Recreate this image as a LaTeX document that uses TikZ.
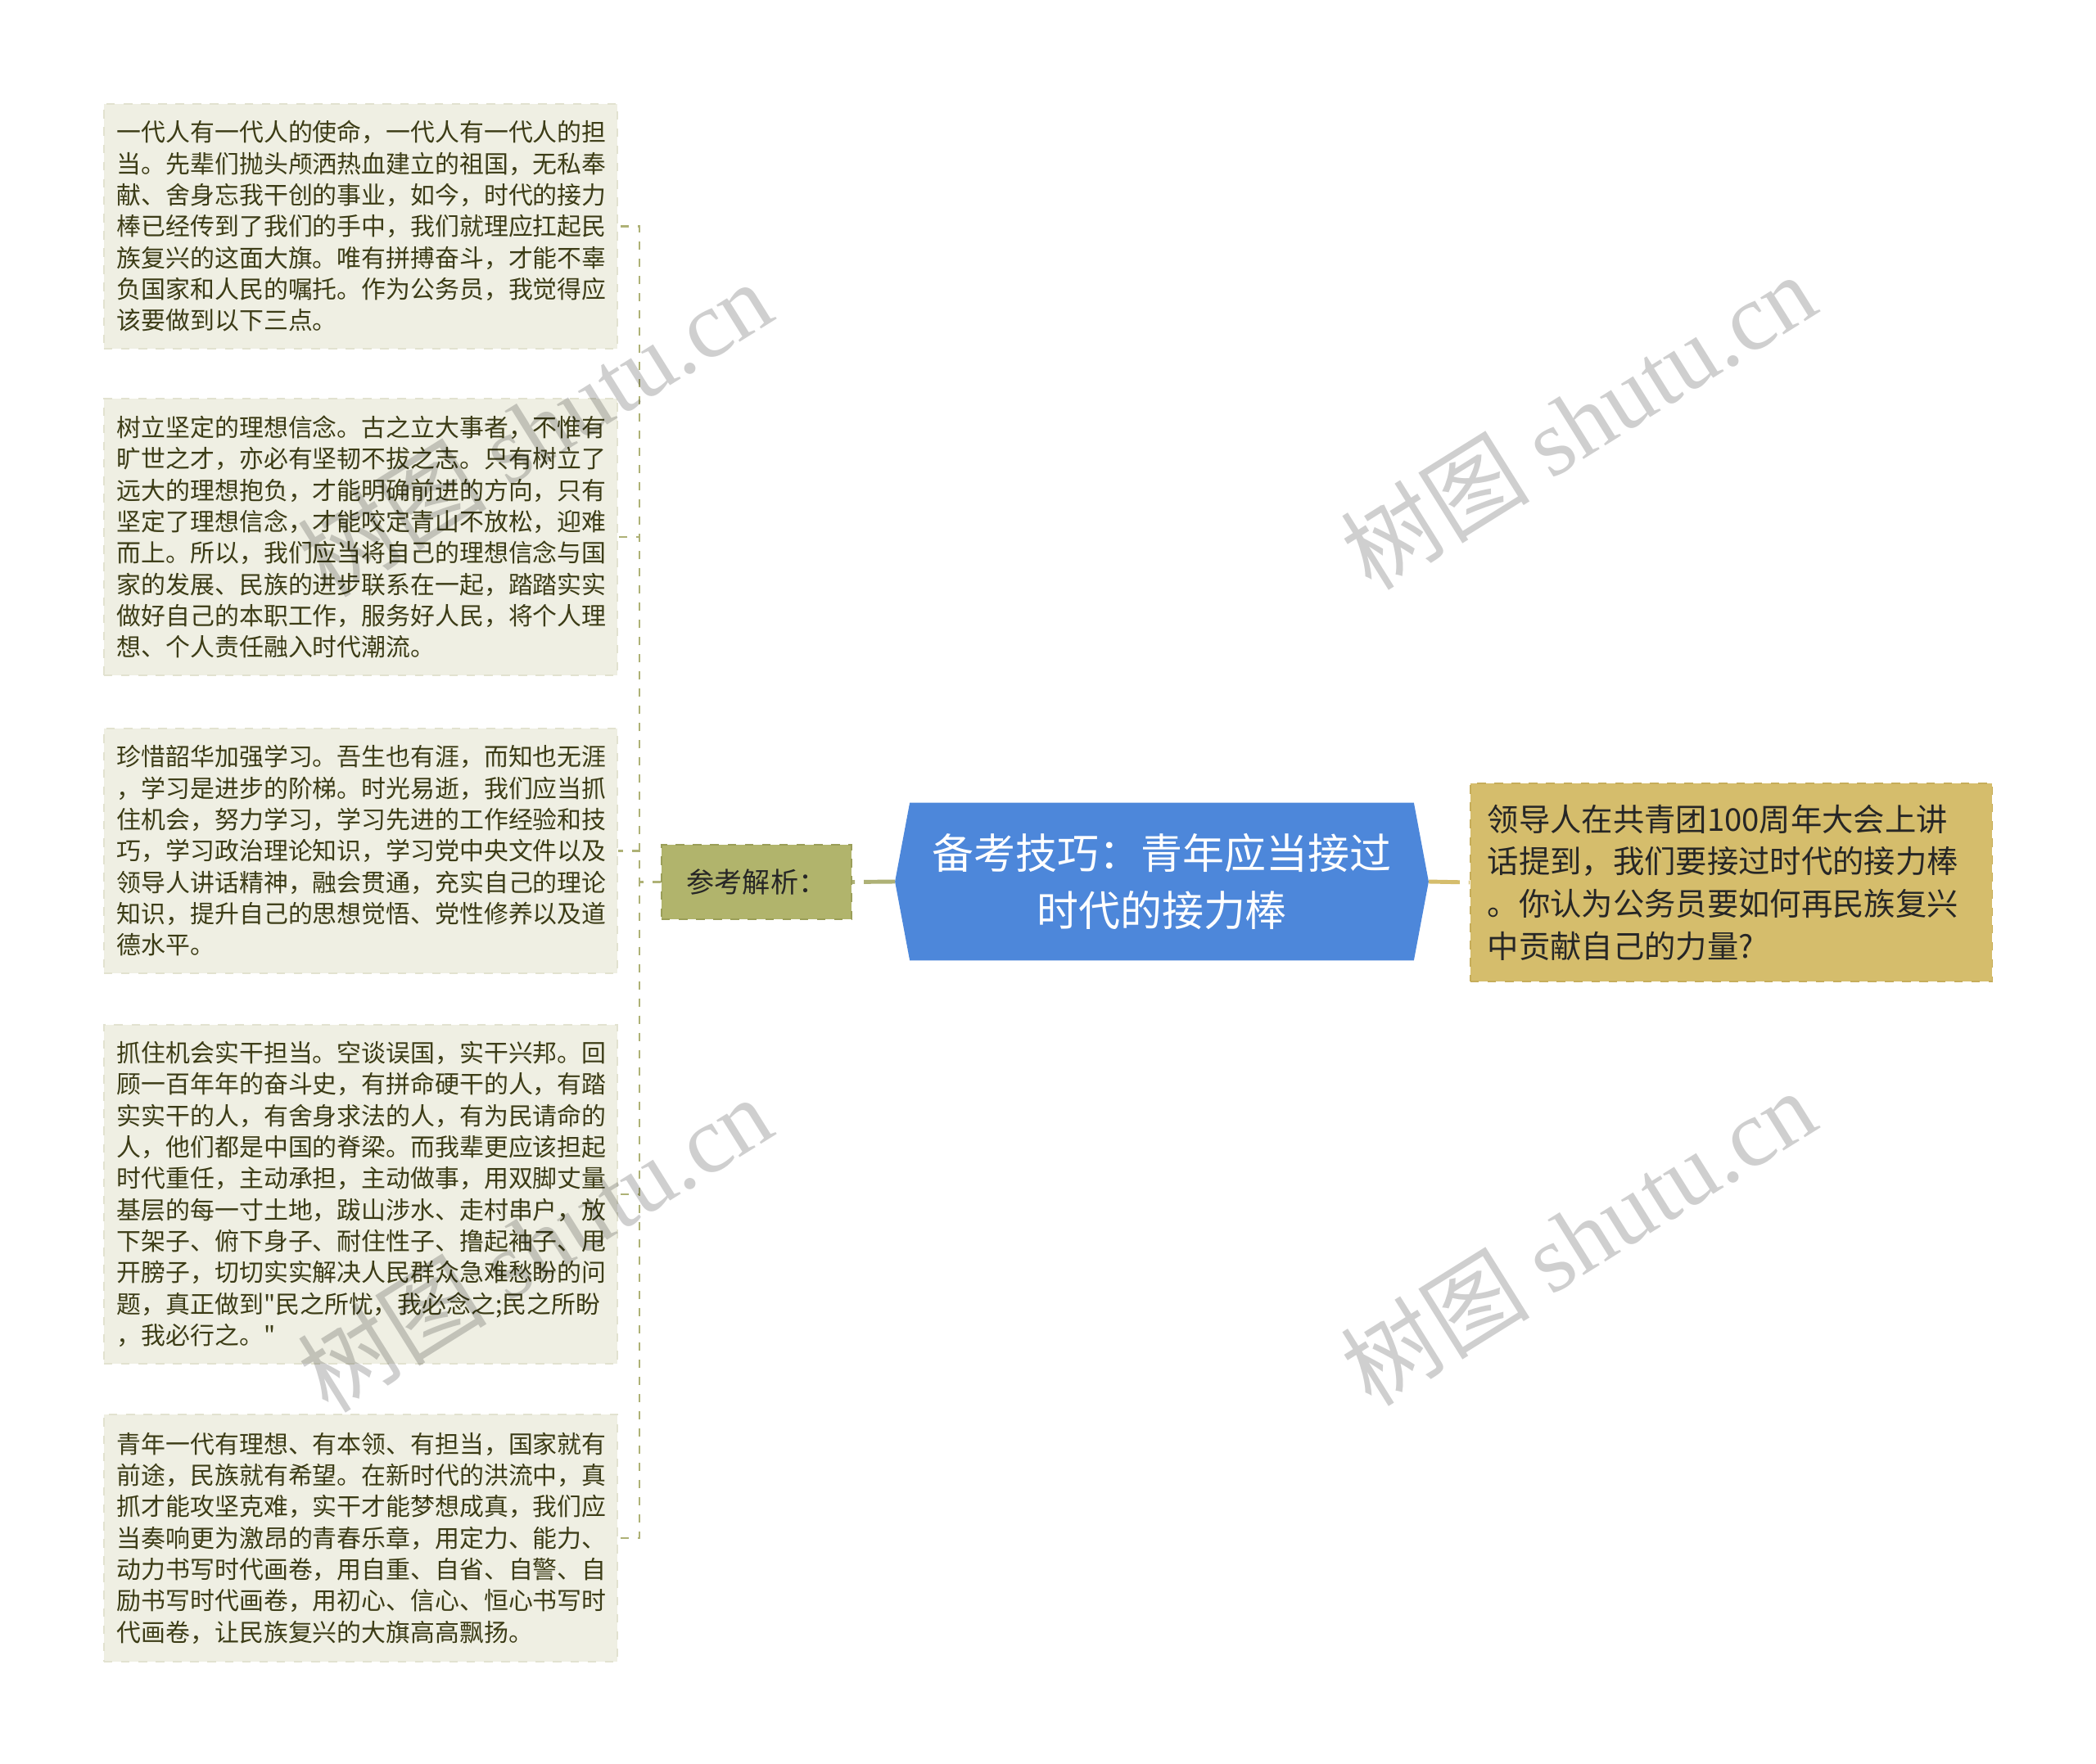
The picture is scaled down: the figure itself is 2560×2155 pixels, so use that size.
\documentclass[tikz,border=0pt]{standalone}
\usepackage{fontspec}
\setmainfont{Noto Sans CJK SC}
\setmonofont{Noto Sans CJK SC}
\newfontfamily\markfont{Liberation Serif}
\usepackage{tikz}
\usetikzlibrary{backgrounds}
\definecolor{leaffill}{HTML}{EFEFE3}
\definecolor{leafline}{HTML}{E2E2D0}
\definecolor{leaftext}{HTML}{3C3C16}
\definecolor{anafill}{HTML}{B1B46C}
\definecolor{analine}{HTML}{9A9E58}
\definecolor{titlefill}{HTML}{4D87DA}
\definecolor{qfill}{HTML}{D5BD6C}
\definecolor{qline}{HTML}{C6AD5A}
\definecolor{branchcol}{HTML}{AEB176}
\def\shutumark(#1)(#2){\node[watermark] (#2) at (#1) {树图 {\markfont shutu.cn}};}
\def\dq{{\ttfamily"}}

\begin{document}
\begin{tikzpicture}[x=0.01cm,y=-0.01cm,
		leaf/.style={draw=leafline, dashed, fill=leaffill, text=leaftext, text width=5.95cm, align=left,
			inner xsep=0.16cm, inner ysep=0cm, font=\fontsize{8.5pt}{10.9pt}\selectfont},
		branch/.style={draw=branchcol, line width=0.6pt, dash pattern=on 0.1cm off 0.11cm},
		trunk/.style={line width=1.4pt, dash pattern=on 0.38cm off 0.11cm},
		watermark/.style={rotate=32, text=black, text opacity=0.19, font=\fontsize{33pt}{33pt}\selectfont}]
			%%%%% START %%%%%
			
			\useasboundingbox (0,0) rectangle (2560,2155);
			\begin{scope}[on background layer]
				\fill[white] (0,0) rectangle (2560,2155);
			\end{scope}
			
			\node[leaf, minimum height=2.99cm] (leafA) at (440.5,276.5) {一代人有一代人的使命，一代人有一代人的担\\
				当。先辈们抛头颅洒热血建立的祖国，无私奉\\
				献、舍身忘我干创的事业，如今，时代的接力\\
				棒已经传到了我们的手中，我们就理应扛起民\\
				族复兴的这面大旗。唯有拼搏奋斗，才能不辜\\
				负国家和人民的嘱托。作为公务员，我觉得应\\
				该要做到以下三点。};
			\node[leaf, minimum height=3.38cm] (leafB) at (440.5,656) {树立坚定的理想信念。古之立大事者，不惟有\\
				旷世之才，亦必有坚韧不拔之志。只有树立了\\
				远大的理想抱负，才能明确前进的方向，只有\\
				坚定了理想信念，才能咬定青山不放松，迎难\\
				而上。所以，我们应当将自己的理想信念与国\\
				家的发展、民族的进步联系在一起，踏踏实实\\
				做好自己的本职工作，服务好人民，将个人理\\
				想、个人责任融入时代潮流。};
			\node[leaf, minimum height=2.99cm] (leafC) at (440.5,1039.5) {珍惜韶华加强学习。吾生也有涯，而知也无涯\\
				，学习是进步的阶梯。时光易逝，我们应当抓\\
				住机会，努力学习，学习先进的工作经验和技\\
				巧，学习政治理论知识，学习党中央文件以及\\
				领导人讲话精神，融会贯通，充实自己的理论\\
				知识，提升自己的思想觉悟、党性修养以及道\\
				德水平。};
			\node[leaf, minimum height=4.14cm] (leafD) at (440.5,1459) {抓住机会实干担当。空谈误国，实干兴邦。回\\
				顾一百年年的奋斗史，有拼命硬干的人，有踏\\
				实实干的人，有舍身求法的人，有为民请命的\\
				人，他们都是中国的脊梁。而我辈更应该担起\\
				时代重任，主动承担，主动做事，用双脚丈量\\
				基层的每一寸土地，跋山涉水、走村串户，放\\
				下架子、俯下身子、耐住性子、撸起袖子、甩\\
				开膀子，切切实实解决人民群众急难愁盼的问\\
				题，真正做到\dq 民之所忧，我必念之;民之所盼\\
				，我必行之。\dq};
			\node[leaf, minimum height=3.02cm] (leafE) at (440.5,1879) {青年一代有理想、有本领、有担当，国家就有\\
				前途，民族就有希望。在新时代的洪流中，真\\
				抓才能攻坚克难，实干才能梦想成真，我们应\\
				当奏响更为激昂的青春乐章，用定力、能力、\\
				动力书写时代画卷，用自重、自省、自警、自\\
				励书写时代画卷，用初心、信心、恒心书写时\\
				代画卷，让民族复兴的大旗高高飘扬。};
			
			\node[draw=analine, dashed, fill=anafill, text=black!85, minimum width=2.32cm, minimum height=0.91cm,
				font=\fontsize{9.7pt}{12pt}\selectfont] (ana) at (924,1077.5) {参考解析：};
			
			\node[text=white, align=center, minimum width=6.5cm, minimum height=1.91cm,
				font=\fontsize{14.5pt}{19.9pt}\selectfont] (title) at (1419,1077) {备考技巧：青年应当接过\\时代的接力棒};
			\begin{scope}[on background layer]
				\fill[titlefill] (title.west) -- ([xshift=0.18cm]title.north west) -- ([xshift=-0.18cm]title.north east)
					-- (title.east) -- ([xshift=-0.18cm]title.south east) -- ([xshift=0.18cm]title.south west) -- cycle;
			\end{scope}
			
			\node[draw=qline, dashed, fill=qfill, text=black!85, text width=5.95cm, align=left, inner xsep=0.21cm,
				minimum height=2.42cm, font=\fontsize{10.9pt}{14.7pt}\selectfont] (q) at (2114.5,1078) {领导人在共青团100周年大会上讲\\
				话提到，我们要接过时代的接力棒\\
				。你认为公务员要如何再民族复兴\\
				中贡献自己的力量?};
			
			\draw[trunk, draw=branchcol] (title.west) -- (ana.east);
			\draw[trunk, draw=qfill] (title.east) -- (q.west);
			\foreach \leaf in {leafA,leafB,leafC,leafD,leafE}
				\draw[branch] (ana.west) -- ++(-26,0) |- (\leaf.east);
			
			\shutumark(653,523)(wmA)
			\shutumark(1927,514)(wmB)
			\shutumark(653,1519)(wmC)
			\shutumark(1927,1511)(wmD)
			
			%%%%% END %%%%%
		\end{tikzpicture}
\end{document}
